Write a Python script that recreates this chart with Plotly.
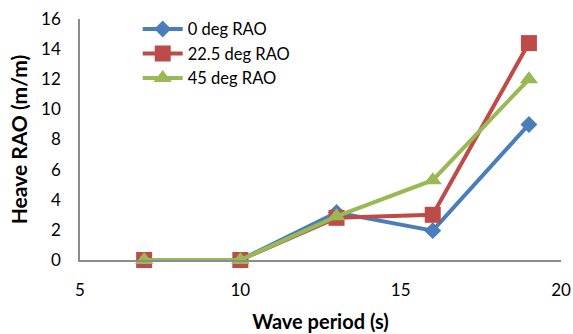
import plotly.graph_objects as go

periods = [7, 10, 13, 16, 19]
rao_0 = [0, 0, 3.15, 1.95, 9.0]
rao_22_5 = [0, 0, 2.8, 3.0, 14.4]
rao_45 = [0, 0, 2.9, 5.3, 12.0]
names = ["0 deg RAO", "22.5 deg RAO", "45 deg RAO"]
colors = ["#4A7EBB", "#BE4B48", "#98B954"]
symbols = ["diamond", "square", "triangle-up"]
sizes = [13, 16, 16]

fig = go.Figure()
for vals, name, c, s, sz in zip([rao_0, rao_22_5, rao_45], names, colors, symbols, sizes):
    fig.add_trace(go.Scatter(x=periods, y=vals, name=name, mode="lines+markers",
                             line=dict(color=c, width=4), cliponaxis=False,
                             marker=dict(symbol=s, size=sz, color=c)))

font = "Lato, Carlito, Calibri, sans-serif"
fig.update_layout(
    width=573, height=334,
    margin=dict(l=80, r=12, t=19, b=74),
    plot_bgcolor="white", paper_bgcolor="white",
    font=dict(family=font, size=17, color="black"),
    showlegend=True,
    legend=dict(x=0.12, y=1.03, xanchor="left", yanchor="top",
                bgcolor="rgba(0,0,0,0)", font=dict(size=16.5), tracegroupgap=0,
                itemwidth=40),
    xaxis=dict(range=[5, 20], tickvals=[5, 10, 15, 20], showgrid=False, zeroline=False,
               showline=True, linecolor="#8C8C8C", linewidth=1.5, ticks="",
               ticklabelstandoff=14, automargin=False,
               title=dict(text="<b>Wave period (s)</b>", font=dict(size=20), standoff=16)),
    yaxis=dict(range=[0, 16], tickvals=list(range(0, 17, 2)), showgrid=False, zeroline=False,
               showline=True, linecolor="#8C8C8C", linewidth=1.5, ticks="",
               ticklabelstandoff=14, automargin=False,
               title=dict(text="<b>Heave RAO (m/m)</b>", font=dict(size=21), standoff=8)),
)
fig.write_html("out.html")
